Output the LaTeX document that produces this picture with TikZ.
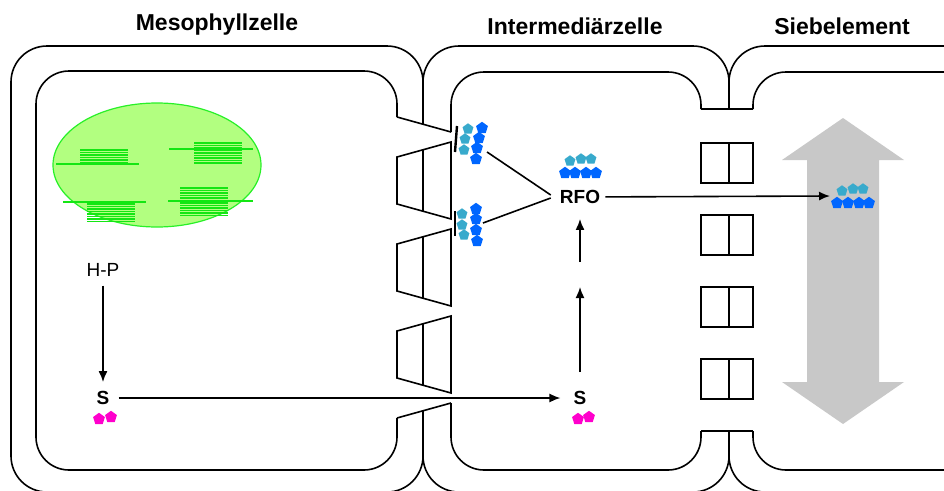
\documentclass[tikz,border=0pt]{standalone}
\usepackage{fontspec}
\setmainfont{Liberation Sans}
\usetikzlibrary{arrows.meta,shapes.geometric}

\definecolor{blattgruen}{RGB}{178,255,128}
\definecolor{randgruen}{RGB}{40,240,40}
\definecolor{stapelgruen}{RGB}{20,230,20}
\definecolor{tuerkis}{RGB}{56,170,204}
\definecolor{zblau}{RGB}{0,102,255}
\definecolor{rosa}{RGB}{255,0,204}
\definecolor{siebgrau}{RGB}{200,200,200}

\tikzset{
  wand/.style={line width=1.6},
  pfeil/.style={line width=1.6,-{Latex[length=11,width=9]}},
  stapel/.style={draw=stapelgruen,line width=1.3},
  titel/.style={font=\fontsize{23}{28}\selectfont\bfseries,anchor=base},
  zucker/.style={font=\fontsize{19}{23}\selectfont\bfseries,inner sep=9},
  fuenf/.style={regular polygon,regular polygon sides=5,minimum size=11.5,inner sep=0},
  tuerkisfuenf/.style={fuenf,fill=tuerkis},
  blaufuenf/.style={fuenf,minimum size=12.5,fill=zblau},
  rosafuenf/.style={fuenf,minimum size=12.5,fill=rosa},
}

\begin{document}
\begin{tikzpicture}[x=1pt,y=-1pt]
  \useasboundingbox (0,0) rectangle (944,490);
  \clip (0,0) rectangle (944,490);

  % titles
  \node[titel] (meso) at (217,30) {Mesophyllzelle};
  \node[titel] (inter) at (575,34) {Intermediärzelle};
  \node[titel] (sieb) at (842,34) {Siebelement};

  % cell walls
  \draw[wand,rounded corners=36] (423,124) -- (423,46) -- (11,46) -- (11,492) -- (423,492) -- (423,411);
  \draw[wand,rounded corners=36] (423,124) -- (423,46) -- (729,46) -- (729,109);
  \draw[wand,rounded corners=36] (423,411) -- (423,492) -- (729,492) -- (729,431);
  \draw[wand,rounded corners=36] (729,109) -- (729,46) -- (990,46);
  \draw[wand,rounded corners=36] (729,431) -- (729,492) -- (990,492);

  % plasma membranes
  \draw[wand,rounded corners=33] (397,117) -- (397,71) -- (36,71) -- (36,470) -- (397,470) -- (397,418);
  \draw[wand,rounded corners=33] (451,132) -- (451,72) -- (701,72) -- (701,109);
  \draw[wand,rounded corners=33] (451,403) -- (451,470) -- (701,470) -- (701,431);
  \draw[wand,rounded corners=33] (753,109) -- (753,72) -- (990,72);
  \draw[wand,rounded corners=33] (753,431) -- (753,470) -- (990,470);
  \draw[wand] (701,109) -- (753,109) (701,431) -- (753,431);

  % plasmodesmata
  \draw[wand] (397,117) -- (451,132) (451,403) -- (397,418);
  \foreach \k in {0,1,2}
    \draw[wand] (451,142+87*\k) -- (397,157+87*\k) -- (397,204+87*\k) -- (451,219+87*\k) -- cycle
                (423,150+87*\k) -- (423,211+87*\k);
  \foreach \y in {143,215,287,359}
    \draw[wand] (701,\y) rectangle (753,\y+40) (729,\y) -- (729,\y+40);
  \draw[line width=2.4] (457,126) -- (455,152);
  \draw[line width=2.4] (455,211) -- (455,236);

  % chloroplast
  \draw[draw=randgruen,fill=blattgruen,line width=1.2] (157,165) ellipse [x radius=104,y radius=62];
  \foreach \x/\y/\n in {80/150/5, 194/143/8, 87/204/7, 180/188/11}
    \foreach \i in {0,...,\n}
      \draw[stapel] (\x,\y+2.5*\i) -- ++(48,0);
  \draw[stapel] (56,164) -- (139,164) (169,149) -- (253,149)
                (63,202) -- (146,202) (168,201) -- (253,201);

  % transport in the sieve element
  \fill[siebgrau] (843,118) -- (904,160) -- (879,160) -- (879,382) -- (904,382) -- (843,424)
                  -- (782,382) -- (807,382) -- (807,160) -- (782,160) -- cycle;

  % sugars
  \node[zucker,font=\fontsize{19}{23}\selectfont] (hp) at (103,270) {H-P};
  \node[zucker] (sm) at (103,398) {S};
  \node[zucker] (si) at (580,398) {S};
  \node[zucker] (rfo) at (580,197) {RFO};

  \foreach \x/\y [count=\i] in {468/129, 465/139, 464/150, 462/214, 462/225, 464/235,
                                570/161, 581/159, 591/159, 842/191, 853/189, 863/189}
    \node[tuerkisfuenf] (t\i) at (\x,\y) {};
  \foreach \x/\y [count=\i] in {482/128, 479/138, 477/148, 476/159, 476/209, 476/219, 476/230, 477/241,
                                565/173, 575/173, 586/173, 596/173, 837/203, 848/203, 859/203, 869/203}
    \node[blaufuenf] (b\i) at (\x,\y) {};
  \foreach \x/\y [count=\i] in {99/419, 111/417, 578/419, 589/417}
    \node[rosafuenf] (r\i) at (\x,\y) {};

  \coordinate (oben) at (487,152);
  \coordinate (unten) at (483,223);
  \coordinate (pfA) at (580,287);
  \coordinate (pfB) at (580,262);
  \coordinate (ziel) at (830,196);

  \draw[pfeil] (hp) -- (sm);
  \draw[pfeil,shorten >=4] (sm) -- (si);
  \draw[pfeil,shorten <=10] (si) -- (pfA);
  \draw[pfeil,shorten >=6] (pfB) -- (rfo);
  \draw[pfeil,shorten <=-4] (rfo) -- (ziel);
  \draw[wand] (oben) -- ([yshift=2]rfo.west);
  \draw[wand] (unten) -- ([yshift=-1]rfo.west);
\end{tikzpicture}
\end{document}
